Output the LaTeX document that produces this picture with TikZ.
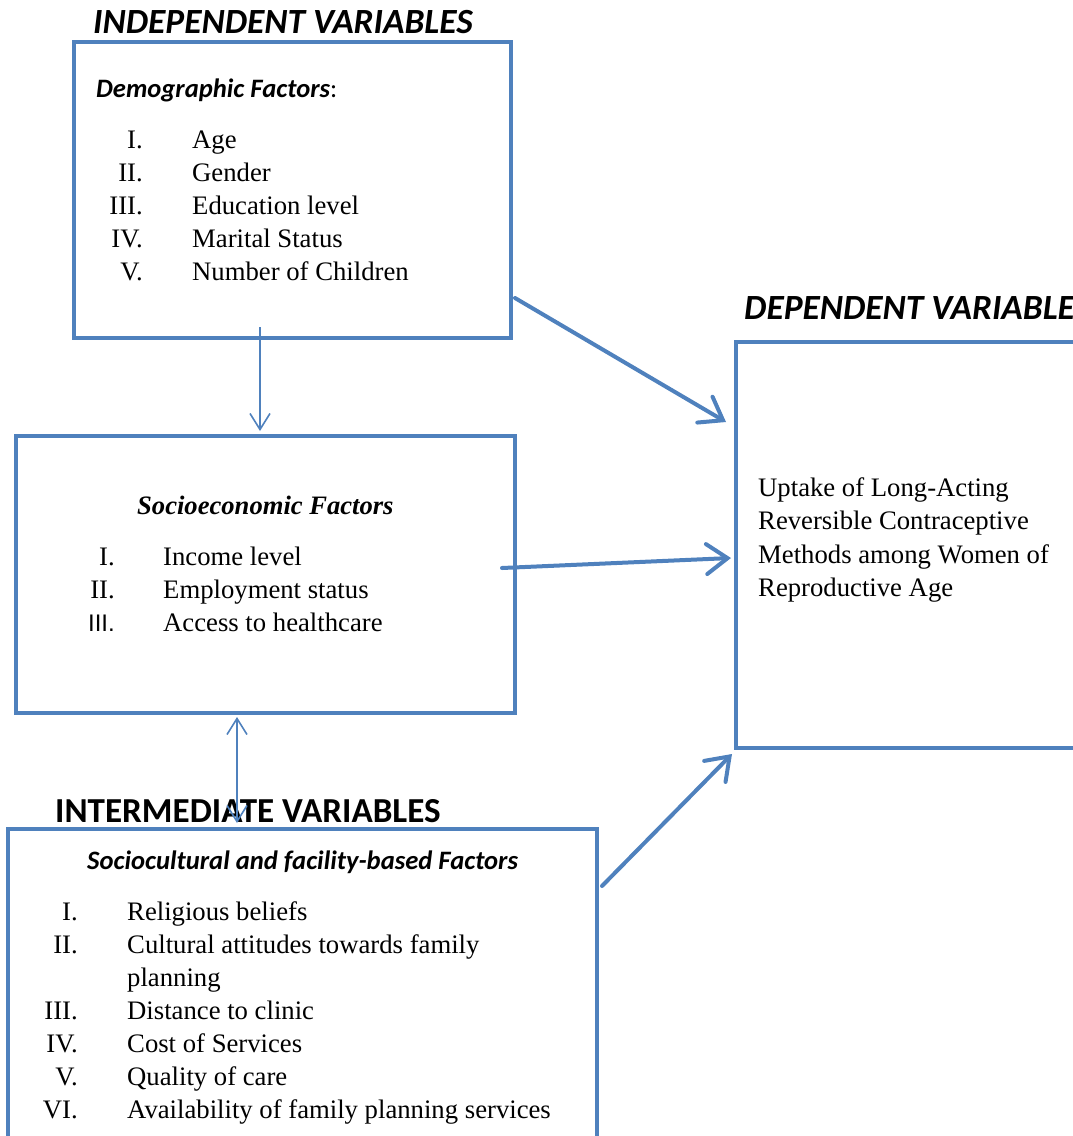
\documentclass[tikz,border=0pt]{standalone}
\usepackage{fontspec}
\setmainfont{Liberation Serif}
\newfontfamily\headfont{Carlito}
\newfontfamily\numsans{Liberation Sans}
\usetikzlibrary{arrows.meta,calc}
\definecolor{boxblue}{RGB}{79,129,189}
\tikzset{
  box/.style={draw=boxblue, line width=4pt, rectangle, inner sep=0pt},
  thickarrow/.style={draw=boxblue, line width=4pt, line cap=round,
    -{Straight Barb[length=21pt, width=30pt, line cap=round]}},
  thinarrow/.style={draw=boxblue, line width=1.6pt,
    -{Straight Barb[length=16pt, width=20pt]}},
  thindouble/.style={draw=boxblue, line width=1.6pt,
    {Straight Barb[length=16pt, width=20pt]}-{Straight Barb[length=16pt, width=20pt]}},
  heading/.style={anchor=base west, inner sep=0pt, font=\headfont\bfseries\itshape\fontsize{35.4}{38}\selectfont},
  headingup/.style={anchor=base west, inner sep=0pt, font=\headfont\bfseries\fontsize{35.1}{38}\selectfont},
  sub/.style={anchor=base west, inner sep=0pt, font=\headfont\bfseries\itshape\fontsize{26.6}{30}\selectfont},
  subserif/.style={anchor=base west, inner sep=0pt, font=\bfseries\itshape\fontsize{26.6}{30}\selectfont},
  num/.style={anchor=base east, inner sep=0pt, font=\fontsize{26.7}{30}\selectfont},
  item/.style={anchor=base west, inner sep=0pt, font=\fontsize{26.7}{30}\selectfont},
}
\begin{document}
\begin{tikzpicture}[x=1pt,y=-1pt]
\useasboundingbox (0,0) rectangle (1073,1136);
\clip (0,0) rectangle (1073,1136);
% boxes
\node[box, minimum width=437pt, minimum height=296pt] (demo) at (292.5,190) {};
\node[box, minimum width=499pt, minimum height=277pt] (socio) at (265.5,574.5) {};
\node[box, minimum width=589pt, minimum height=340pt] (cult) at (302.5,999) {};
\node[box, minimum width=380pt, minimum height=406pt] (dep) at (926,545) {};
% headings
\node[heading] (hind) at (93,33) {INDEPENDENT VARIABLES};
\node[heading] (hdep) at (744,319) {DEPENDENT VARIABLE};
\node[headingup] (hint) at (55,822) {INTERMEDIATE VARIABLES};
% demographic
\node[sub] (tdemo) at (96,97) {Demographic Factors\textmd{\upshape:}};
\foreach \n/\t/\y in {I./Age/148, II./Gender/181, III./Education level/214, IV./Marital Status/247, V./Number of Children/280}{
  \node[num] at (143,\y) {\n};
  \node[item] at (192,\y) {\t};
}
% socioeconomic
\node[subserif] (tsocio) at (137,514) {Socioeconomic Factors};
\node[num] (s1) at (115,565) {I.};
\node[num] (s2) at (115,598) {II.};
\node[num, font=\numsans\fontsize{24}{28}\selectfont] (s3) at (115,631) {III.};
\node[item] (s1t) at (163,565) {Income level};
\node[item] (s2t) at (163,598) {Employment status};
\node[item] (s3t) at (163,631) {Access to healthcare};
% sociocultural
\node[sub] (tcult) at (87,869) {Sociocultural and facility-based Factors};
\foreach \n/\t/\y in {I./Religious beliefs/920, II./Cultural attitudes towards family/953, III./Distance to clinic/1019, IV./Cost of Services/1052, V./Quality of care/1085, VI./Availability of family planning services/1118}{
  \node[num] at (78,\y) {\n};
  \node[item] at (127,\y) {\t};
}
\node[item] (plan) at (127,986) {planning};
% dependent
\node[item] (d1) at (758,496) {Uptake of Long-Acting};
\node[item] (d2) at (758,529.5) {Reversible Contraceptive};
\node[item] (d3) at (758,563) {Methods among Women of};
\node[item] (d4) at (758,596.5) {Reproductive Age};
% connectors
\draw[thinarrow] ($(demo.south)+(-32.5,-13)$) -- ($(socio.north)+(-5.5,-3)$);
\draw[thickarrow] ($(demo.south east)+(2,-42)$) -- ($(dep.west)+(-8,-123)$);
\draw[thickarrow] ($(socio.east)+(-15,-6.5)$) -- ($(dep.west)+(-3,13)$);
\draw[thickarrow] ($(cult.north east)+(3,59)$) -- ($(dep.south west)+(-2,4)$);
\draw[thindouble] ($(socio.south)+(-28.5,2)$) -- ($(cult.north)+(-65.5,-4)$);
\end{tikzpicture}
\end{document}
